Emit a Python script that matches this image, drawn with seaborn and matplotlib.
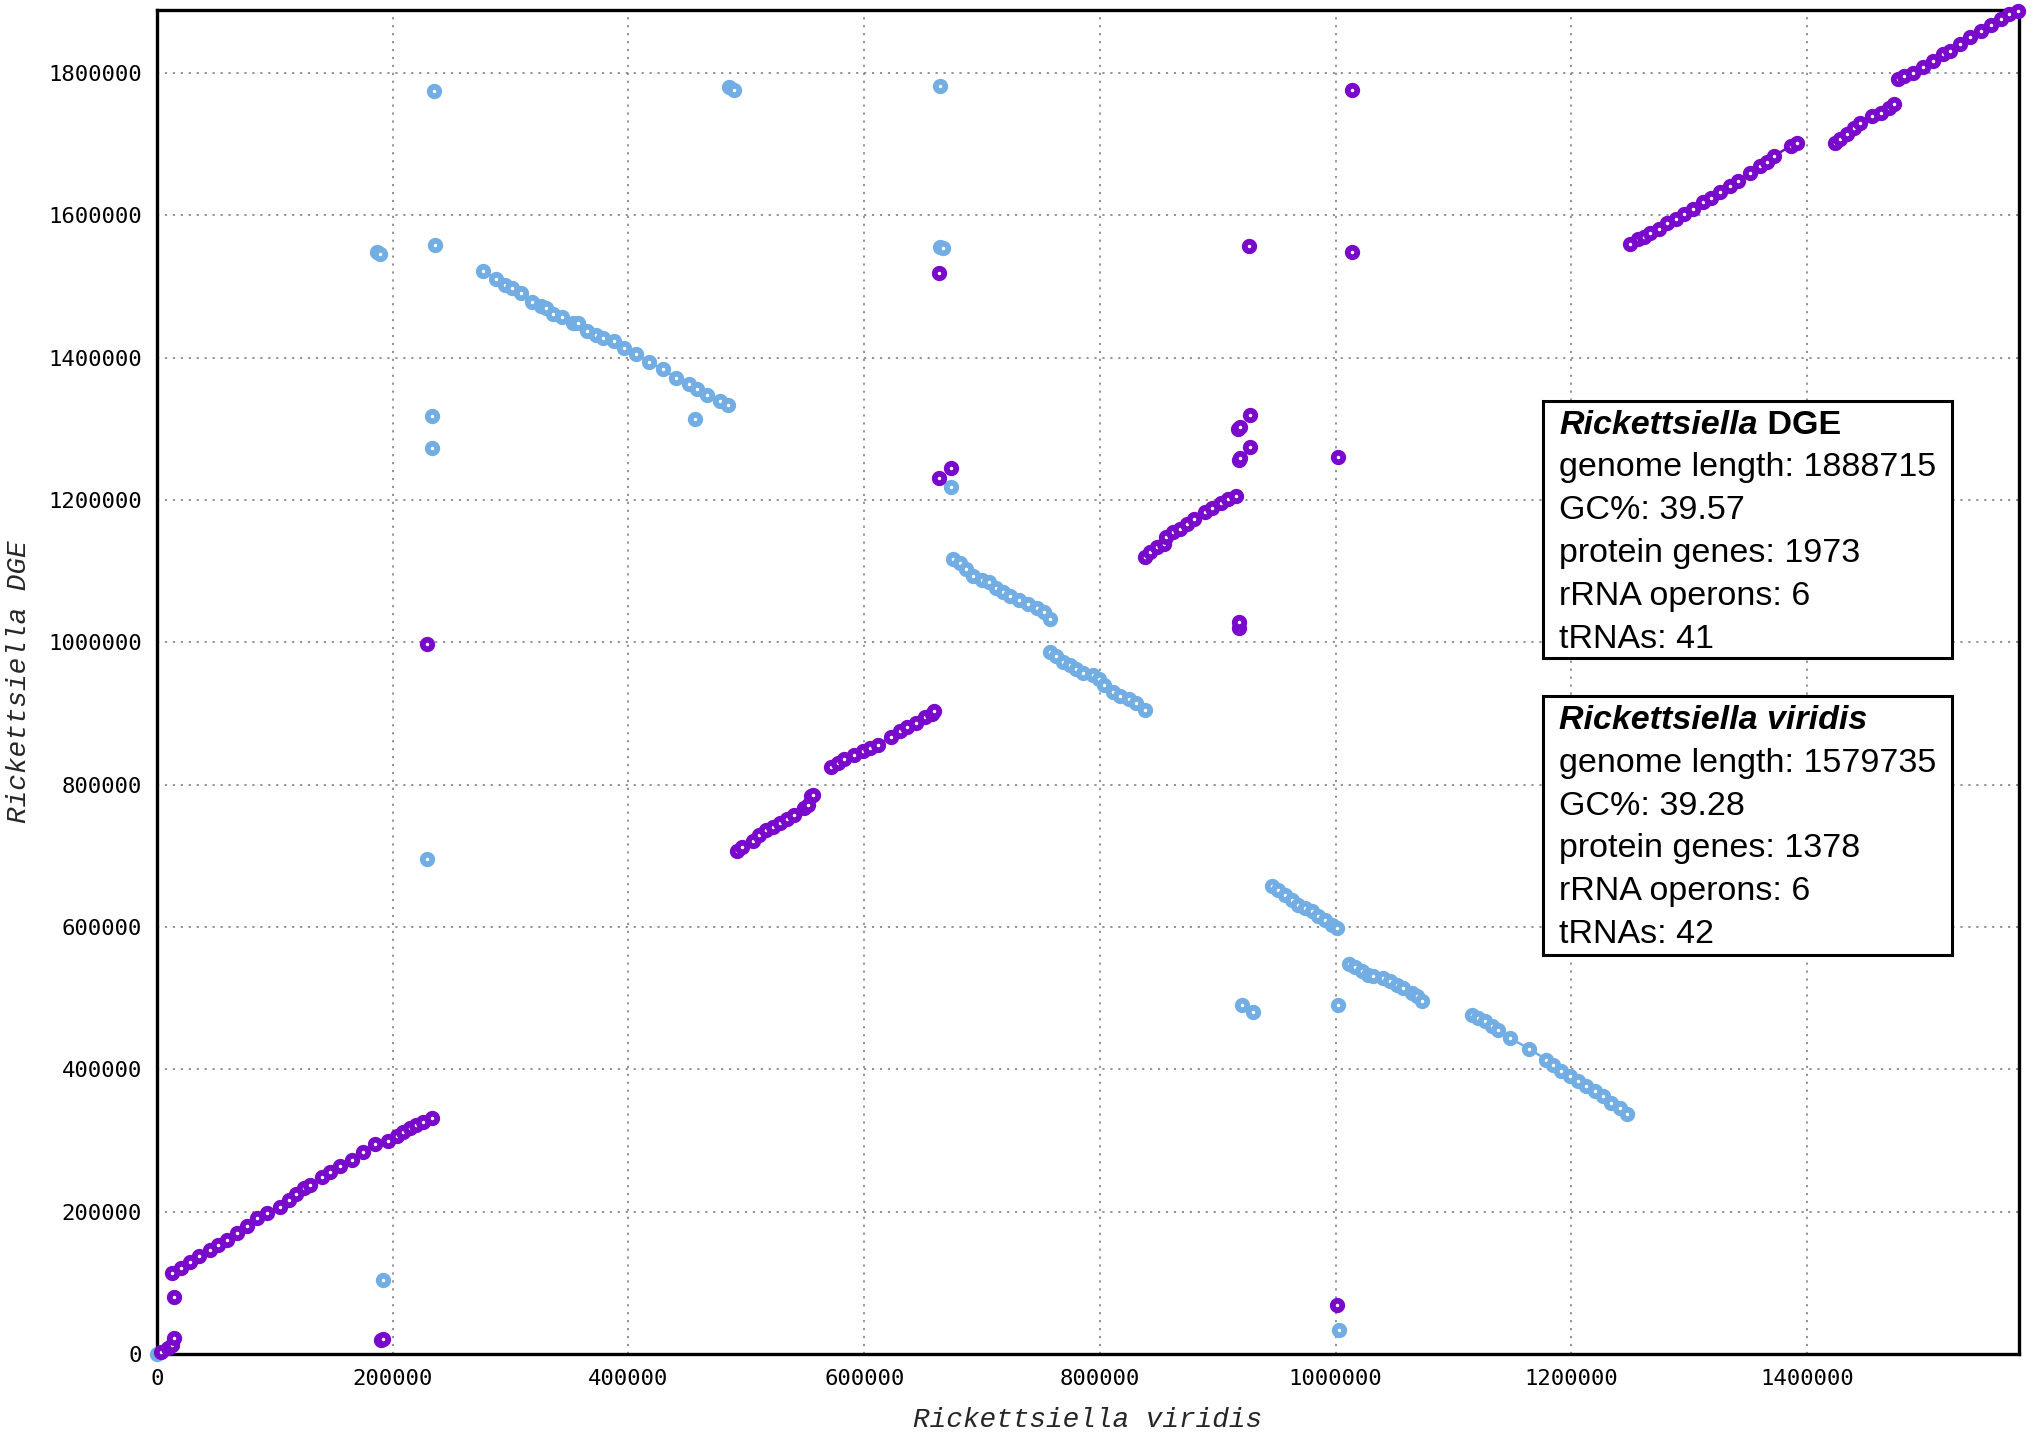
import matplotlib
matplotlib.use("Agg")
import matplotlib.pyplot as plt
import matplotlib.patches as mpatches
import numpy as np
import pandas as pd
import seaborn as sns

# ---------------- data (x: R. viridis position, y: R. DGE position) ----------------
X_MAX = 1579735
Y_MAX = 1888715

x_ticks = [0, 200000, 400000, 600000, 800000, 1000000, 1200000, 1400000]
y_ticks = [0, 200000, 400000, 600000, 800000, 1000000, 1200000, 1400000, 1600000, 1800000]
x_ticklabels = [str(v) for v in x_ticks]
y_ticklabels = [str(v) for v in y_ticks]

x_label = "Rickettsiella viridis"
y_label = "Rickettsiella DGE"

# forward (purple) matches
fwd_origin = [(3800, 3300), (9500, 8000), (12500, 12600), (14400, 22000)]
fwd_iso_a = [(14400, 79600)]
fwd_diag1 = [(12700, 113300), (20000, 121000), (28200, 129700), (36000, 138000),
             (45200, 146100), (52000, 153000), (59300, 160200), (67800, 169600),
             (76000, 180000), (84700, 190600), (93200, 197700), (104500, 207000),
             (111600, 216400), (118000, 225000), (124300, 232800), (129900, 237500),
             (139800, 248200), (146900, 256200), (155400, 264200), (165300, 272600),
             (175100, 284300), (185000, 294600), (196300, 299800), (203400, 306300),
             (209000, 311500), (214700, 317100), (220000, 321500), (226000, 326500),
             (233100, 331100)]
fwd_pair_b = [(190000, 19700), (191700, 21500)]
fwd_iso_c = [(229100, 997600)]
fwd_diag2a = [(492400, 707500), (496300, 712600), (505300, 721600), (511100, 729100),
              (517000, 735700), (522800, 740700), (528700, 746700), (534500, 751800),
              (540400, 757800), (548900, 767800), (552000, 771900), (555200, 783900),
              (556700, 785900)]
fwd_diag2b = [(571500, 825600), (577400, 831200), (583200, 836200), (591000, 842200),
              (598800, 847300), (604700, 852300), (611300, 856300), (623000, 867300),
              (630000, 874900), (635900, 881400), (643700, 887400), (651500, 895000),
              (657300, 900000), (659300, 903500)]
fwd_iso_d = [(663200, 1230600)]
fwd_iso_e = [(673700, 1244700)]
fwd_iso_f = [(663400, 1519800)]
fwd_diag3 = [(838600, 1120100), (842500, 1127600), (848300, 1133700), (854200, 1138700),
             (856100, 1148700), (862000, 1154800), (867800, 1159800), (873700, 1166300),
             (879500, 1173900), (889300, 1182900), (895100, 1188900), (903000, 1196500),
             (908800, 1201500), (915800, 1205500)]
fwd_iso_g = [(927100, 1319600)]
fwd_pair_h = [(917400, 1300500), (919000, 1303000)]
fwd_iso_i = [(927500, 1274400)]
fwd_pair_j = [(917700, 1256300), (918500, 1259300)]
fwd_iso_k = [(1002000, 1260800)]
fwd_pair_l = [(917700, 1020600), (917700, 1029000)]
fwd_iso_m = [(926300, 1557100)]
fwd_iso_n = [(1013600, 1549000)]
fwd_iso_o = [(1013600, 1776900)]
fwd_iso_p = [(1001300, 68900)]
fwd_diag4a = [(1249700, 1559200), (1256900, 1567100), (1261200, 1569900), (1267000, 1575600),
              (1274100, 1581200), (1281300, 1588700), (1288500, 1595300), (1295700, 1601400),
              (1302900, 1608500), (1311500, 1618800), (1318700, 1624900), (1325900, 1632900),
              (1334500, 1641300), (1341700, 1648400), (1351700, 1660100), (1360300, 1669500),
              (1366100, 1675100), (1371800, 1683600), (1386200, 1697700), (1391400, 1702300)]
fwd_diag4b = [(1423600, 1702300), (1427900, 1708000), (1433600, 1714100), (1439400, 1723500),
              (1445100, 1730500), (1455200, 1739900), (1462400, 1744600), (1469500, 1751600),
              (1473900, 1756300)]
fwd_diag4c = [(1476700, 1791500), (1482500, 1795300), (1489700, 1800000), (1498300, 1808000),
              (1506900, 1817400), (1515500, 1826800), (1521300, 1831500), (1529900, 1840800),
              (1538500, 1850200), (1547100, 1859600), (1555700, 1867600), (1564400, 1876100),
              (1571500, 1883100), (1578700, 1888000)]

# reverse (blue) matches
rev_origin = [(0, 0)]
rev_iso_a = [(192000, 104000)]
rev_iso_b = [(229100, 696000)]
rev_iso_c = [(233300, 1273400)]
rev_iso_d = [(233300, 1318600)]
rev_pair_e = [(186700, 1549200), (189100, 1546000)]
rev_iso_f = [(235800, 1558900)]
rev_iso_g = [(234800, 1774200)]
rev_diag1 = [(276400, 1521800), (287600, 1511300), (295200, 1502400), (301200, 1497600),
             (308800, 1491100), (317900, 1478200), (325500, 1473400), (330000, 1470200),
             (336100, 1462100), (343600, 1457300), (352700, 1449200), (357300, 1448400),
             (364800, 1437900), (372400, 1431500), (378500, 1428200), (387600, 1424200),
             (396600, 1414100), (406500, 1404700), (417800, 1393900), (429100, 1383600),
             (440400, 1371900), (451700, 1362500), (458000, 1356000), (466300, 1347200),
             (478000, 1339700), (484600, 1333000)]
rev_iso_h = [(456400, 1313700)]
rev_pair_i = [(485200, 1780200), (489700, 1776400)]
rev_iso_j = [(664600, 1781600)]
rev_pair_k = [(664600, 1556100), (666700, 1553800)]
rev_iso_l = [(673700, 1218600)]
rev_diag2 = [(675600, 1117600), (681500, 1111100), (686500, 1103500), (692400, 1093500),
             (700200, 1087400), (706000, 1084400), (711900, 1075900), (717700, 1070900),
             (723600, 1065800), (731400, 1059300), (739200, 1054300), (747000, 1048200),
             (752800, 1042200), (757900, 1033200)]
rev_diag3 = [(757900, 986900), (762600, 980400), (768400, 972900), (774300, 967800),
             (780100, 962800), (786000, 956800), (793700, 953800), (799600, 948700),
             (803500, 940200), (811300, 930200), (817100, 925100), (824900, 920100),
             (830800, 915100), (838600, 905000)]
rev_pair_m = [(920300, 490900), (929700, 480100)]
rev_diag4 = [(946300, 657100), (951400, 651500), (957100, 645400), (962700, 638400),
             (968400, 631400), (974000, 626700), (979700, 622000), (985300, 615000),
             (991000, 610300), (996600, 603300), (1000800, 598600)]
rev_iso_n = [(1002300, 490900)]
rev_diag5 = [(1011600, 548500), (1016400, 543800), (1022000, 537700), (1027700, 533000),
             (1031400, 531600), (1040400, 528300), (1046000, 523700), (1051700, 519000),
             (1057300, 514300), (1064400, 507300), (1068600, 502600), (1072900, 496500)]
rev_diag6 = [(1115300, 476800), (1120900, 472100), (1126600, 467500), (1132200, 460400),
             (1137900, 454800), (1147700, 444000), (1164100, 429000), (1178800, 413600),
             (1184500, 406600), (1191500, 397200), (1198600, 390200), (1205600, 383100),
             (1212700, 376100), (1219800, 369100), (1226800, 362100), (1233900, 352700),
             (1240900, 345700), (1247200, 337300)]
rev_iso_o = [(1003000, 33300)]

forward_segments = [fwd_origin, fwd_iso_a, fwd_diag1, fwd_pair_b, fwd_iso_c, fwd_diag2a,
                    fwd_diag2b, fwd_iso_d, fwd_iso_e, fwd_iso_f, fwd_diag3, fwd_iso_g,
                    fwd_pair_h, fwd_iso_i, fwd_pair_j, fwd_iso_k, fwd_pair_l, fwd_iso_m,
                    fwd_iso_n, fwd_iso_o, fwd_iso_p, fwd_diag4a, fwd_diag4b, fwd_diag4c]
reverse_segments = [rev_origin, rev_iso_a, rev_iso_b, rev_iso_c, rev_iso_d, rev_pair_e,
                    rev_iso_f, rev_iso_g, rev_diag1, rev_iso_h, rev_pair_i, rev_iso_j,
                    rev_pair_k, rev_iso_l, rev_diag2, rev_diag3, rev_pair_m, rev_diag4,
                    rev_iso_n, rev_diag5, rev_diag6, rev_iso_o]

# info boxes
box1_title_it = "Rickettsiella"
box1_title_rest = " DGE"
box1_lines = ["genome length: 1888715", "GC%: 39.57", "protein genes: 1973",
              "rRNA operons: 6", "tRNAs: 41"]
box2_title_it = "Rickettsiella viridis"
box2_lines = ["genome length: 1579735", "GC%: 39.28", "protein genes: 1378",
              "rRNA operons: 6", "tRNAs: 42"]

PURPLE = "#7A0ACB"
BLUE = "#72AEE3"

# ---------------- build table ----------------
rows = []
for strand, segs in (("reverse", reverse_segments), ("forward", forward_segments)):
    for i, seg in enumerate(segs):
        for (xv, yv) in seg:
            rows.append({"strand": strand, "seg": f"{strand}_{i}", "x": xv, "y": yv})
df = pd.DataFrame(rows)

# ---------------- figure ----------------
sns.set_style("white")
W, H = 2032, 1434
fig = plt.figure(figsize=(W / 100, H / 100), dpi=100)
ax = fig.add_axes([157 / W, 1 - 1354 / H, (2019 - 157) / W, (1354 - 10) / H])

for strand, color in (("reverse", BLUE), ("forward", PURPLE)):
    sub = df[df["strand"] == strand]
    sns.lineplot(data=sub, x="x", y="y", units="seg", estimator=None, sort=False,
                 color=color, lw=1.8, marker="o", ms=6.8, mew=4.2, mec=color,
                 mfc="white", clip_on=False, ax=ax, legend=False, zorder=3)

ax.set_xlim(0, X_MAX)
ax.set_ylim(0, Y_MAX)
ax.set_xticks(x_ticks)
ax.set_xticklabels(x_ticklabels)
ax.set_yticks(y_ticks)
ax.set_yticklabels(y_ticklabels)
ax.grid(True, color="#8a8a8a", linestyle=(0, (1.2, 3.2)), lw=1.3)
ax.set_axisbelow(True)
ax.tick_params(length=0, pad=11)
for lab in ax.get_xticklabels() + ax.get_yticklabels():
    lab.set_fontfamily("DejaVu Sans Mono")
    lab.set_fontsize(16)
    lab.set_color("black")
for sp in ax.spines.values():
    sp.set_visible(True)
    sp.set_color("black")
    sp.set_linewidth(2.4)

ax.set_xlabel(x_label, fontfamily="Liberation Mono", fontstyle="italic", fontsize=20)
ax.set_ylabel(y_label, fontfamily="Liberation Mono", fontstyle="italic", fontsize=20)
ax.xaxis.set_label_coords(0.5, -(1420 - 1354) / 1344)
ax.xaxis.label.set_va("center")
ax.yaxis.set_label_coords((19 - 157) / 1862, 0.5)
ax.yaxis.label.set_va("center")
ax.yaxis.label.set_ha("center")

# ---------------- info boxes ----------------
FS = 24.5
FAM = "Liberation Sans"
TX = 1559
LS = 42.8

def fx(px):
    return px / W

def fy(py):
    return 1 - py / H

for (x0, y0, x1, y1) in ((1543, 401, 1952, 658), (1543, 696, 1952, 955)):
    rect = mpatches.Rectangle((fx(x0), fy(y1)), (x1 - x0) / W, (y1 - y0) / H,
                              transform=fig.transFigure, fill=True, fc="white",
                              ec="black", lw=2.2, zorder=5)
    fig.add_artist(rect)

t1 = fig.text(fx(TX), fy(433.5), box1_title_it, fontsize=FS, fontfamily=FAM,
              fontweight="bold", fontstyle="italic", va="baseline", zorder=6,
              color="black")
fig.add_artist(matplotlib.text.Annotation(box1_title_rest, xy=(1, 0), xycoords=t1,
                                          va="bottom", ha="left", fontsize=FS,
                                          fontfamily=FAM, fontweight="bold", zorder=6,
                                          color="black"))
for i, line in enumerate(box1_lines):
    fig.text(fx(TX), fy(476.3 + i * LS), line, fontsize=FS, fontfamily=FAM,
             va="baseline", zorder=6, color="black")

fig.text(fx(TX), fy(729.0), box2_title_it, fontsize=FS, fontfamily=FAM,
         fontweight="bold", fontstyle="italic", va="baseline", zorder=6, color="black")
for i, line in enumerate(box2_lines):
    fig.text(fx(TX), fy(771.8 + i * LS), line, fontsize=FS, fontfamily=FAM,
             va="baseline", zorder=6, color="black")

fig.savefig("out.png", dpi=100, facecolor="white")
